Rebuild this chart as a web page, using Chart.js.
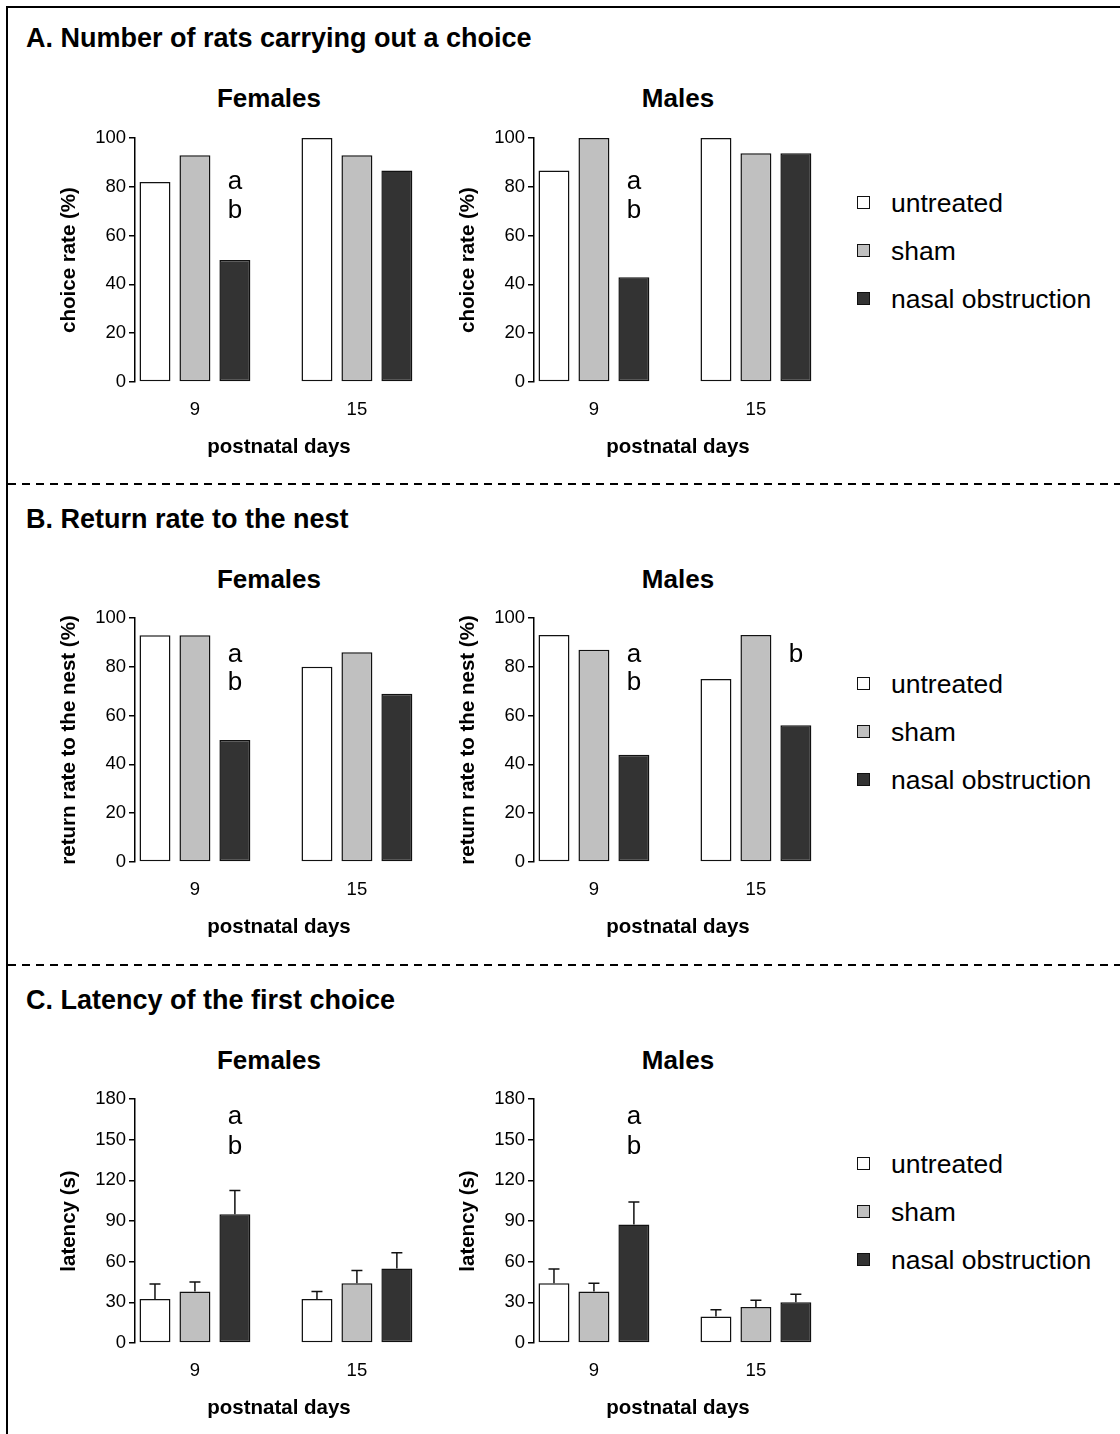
<!DOCTYPE html>
<html lang="en">
<head>
<meta charset="UTF-8">
<title>Nasal obstruction - homing test</title>
<script src="https://cdn.jsdelivr.net/npm/chart.js"></script>
<style>
  body { margin: 0; background: #fff; font-family: "Liberation Sans", Arial, sans-serif; }
  #page { position: relative; width: 1120px; height: 1434px; overflow: hidden; background: #fff; }
  #frame { position: absolute; left: 6px; top: 6px; width: 1200px; height: 1500px;
           border-top: 2px solid #000; border-left: 2px solid #000; }
  .dash { position: absolute; left: 8px; width: 1112px; height: 2px;
          background: repeating-linear-gradient(to right, #000 0 8px, transparent 8px 14px); }
  .sect { position: absolute; left: 26px; font-weight: bold; font-size: 27px; line-height: 27px; color: #000; white-space: nowrap; }
  .ptitle { position: absolute; width: 200px; text-align: center; font-weight: bold; font-size: 26px; line-height: 26px; }
  canvas { position: absolute; }
  .leg { position: absolute; left: 857px; font-size: 26.5px; line-height: 26px; }
  .leg div { position: relative; height: 48px; }
  .leg span.box { position: absolute; left: 0; top: 6px; width: 11px; height: 11px; border: 1.5px solid #111; }
  .leg span.txt { position: absolute; left: 34px; top: 0; white-space: nowrap; }
</style>
</head>
<body>
<div id="page">
  <div id="frame"></div>
  <div class="dash" style="top:483px"></div>
  <div class="dash" style="top:964px"></div>

  <div class="sect" style="top:25px">A. Number of rats carrying out a choice</div>
  <div class="sect" style="top:506px">B. Return rate to the nest</div>
  <div class="sect" style="top:987px">C. Latency of the first choice</div>

  <div class="ptitle" style="left:169px;top:85px">Females</div>
  <div class="ptitle" style="left:578px;top:85px">Males</div>
  <div class="ptitle" style="left:169px;top:566px">Females</div>
  <div class="ptitle" style="left:578px;top:566px">Males</div>
  <div class="ptitle" style="left:169px;top:1047px">Females</div>
  <div class="ptitle" style="left:578px;top:1047px">Males</div>

  <canvas id="aF" width="383" height="390" style="left:40px;top:70px"></canvas>
  <canvas id="aM" width="383" height="390" style="left:439px;top:70px"></canvas>
  <canvas id="bF" width="383" height="390" style="left:40px;top:550px"></canvas>
  <canvas id="bM" width="383" height="390" style="left:439px;top:550px"></canvas>
  <canvas id="cF" width="383" height="390" style="left:40px;top:1031px"></canvas>
  <canvas id="cM" width="383" height="390" style="left:439px;top:1031px"></canvas>

  <div class="leg" id="legA" style="top:190px"></div>
  <div class="leg" id="legB" style="top:671px"></div>
  <div class="leg" id="legC" style="top:1151px"></div>
</div>

<script>
// categories
const days = ['9', '15'];
const groups = ['untreated', 'sham', 'nasal obstruction'];
const fills = ['#ffffff', '#c0c0c0', '#333333'];

// A. choice rate (%) - rows: untreated, sham, nasal obstruction; cols: day 9, day 15
const choiceFemales = [[82, 100], [92.9, 92.9], [50, 86.7]];
const choiceMales = [[86.7, 100], [100, 93.8], [42.9, 93.8]];

// B. return rate to the nest (%)
const returnFemales = [[92.9, 80], [92.9, 86], [50, 69]];
const returnMales = [[93, 75], [87, 93], [44, 56]];

// C. latency of the first choice (s), mean and SEM
const latencyFemales = [[32.5, 32.5], [38, 44], [95, 55]];
const latencyFemalesSem = [[11, 5.5], [7, 9.5], [17.5, 11.5]];
const latencyMales = [[44, 19.5], [38, 26.5], [87.5, 30]];
const latencyMalesSem = [[10.5, 5], [6, 5], [16.5, 6]];

// significance letters: [day index, group index, y value, letter]
const choiceLettersF = [[0, 2, 82, 'a'], [0, 2, 70, 'b']];
const choiceLettersM = [[0, 2, 82, 'a'], [0, 2, 70, 'b']];
const returnLettersF = [[0, 2, 85, 'a'], [0, 2, 73.5, 'b']];
const returnLettersM = [[0, 2, 85, 'a'], [0, 2, 73.5, 'b'], [1, 2, 85, 'b']];
const latencyLetters = [[0, 2, 167, 'a'], [0, 2, 145, 'b']];

const yTicksRate = [0, 20, 40, 60, 80, 100];
const yTicksLatency = [0, 30, 60, 90, 120, 150, 180];

Chart.defaults.font.family = '"Liberation Sans", Arial, sans-serif';
Chart.defaults.color = '#000';

// error bars + letters
const marks = {
  id: 'marks',
  afterDatasetsDraw(chart, args, opts) {
    const ctx = chart.ctx;
    const y = chart.scales.y;
    ctx.save();
    chart.data.datasets.forEach((ds, k) => {
      if (!ds.sem) return;
      const meta = chart.getDatasetMeta(k);
      meta.data.forEach((bar, i) => {
        const top = y.getPixelForValue(ds.data[i].y + ds.sem[i]);
        ctx.strokeStyle = '#111';
        ctx.lineWidth = 1.5;
        ctx.beginPath();
        ctx.moveTo(bar.x, bar.y);
        ctx.lineTo(bar.x, top);
        ctx.moveTo(bar.x - 5.5, top);
        ctx.lineTo(bar.x + 5.5, top);
        ctx.stroke();
      });
    });
    ctx.fillStyle = '#000';
    ctx.font = '26px "Liberation Sans", Arial, sans-serif';
    ctx.textAlign = 'center';
    ctx.textBaseline = 'middle';
    (opts.letters || []).forEach(([d, g, v, t]) => {
      const bar = chart.getDatasetMeta(g).data[d];
      ctx.fillText(t, bar.x, y.getPixelForValue(v));
    });
    ctx.restore();
  }
};

function panel(id, values, sem, yTicks, yTitle, letters) {
  const yMax = yTicks[yTicks.length - 1];
  new Chart(document.getElementById(id), {
    type: 'bar',
    data: {
      datasets: groups.map((g, k) => ({
        label: g,
        data: values[k].map((v, i) => ({ x: i, y: v })),
        sem: sem ? sem[k] : null,
        backgroundColor: fills[k],
        borderColor: '#111',
        borderWidth: 1.5,
        borderSkipped: false,
        categoryPercentage: 0.74,
        barPercentage: 0.775
      }))
    },
    options: {
      responsive: false,
      animation: false,
      events: [],
      layout: { padding: { top: 68 } },
      plugins: {
        legend: { display: false },
        tooltip: { enabled: false },
        marks: { letters: letters }
      },
      scales: {
        x: {
          type: 'linear',
          offset: false,
          min: -0.37,
          max: 1.408,
          grid: { display: false, drawTicks: false },
          border: { display: false },
          afterBuildTicks: s => { s.ticks = days.map((d, i) => ({ value: i })); },
          afterFit: s => { s.height = 78; },
          ticks: {
            callback: v => days[v],
            font: { size: 18.5 },
            padding: 17,
            autoSkip: false,
            maxRotation: 0
          },
          title: {
            display: true,
            text: 'postnatal days',
            font: { size: 20.5, weight: 'bold' },
            padding: 0
          }
        },
        y: {
          min: 0,
          max: yMax,
          afterBuildTicks: s => { s.ticks = yTicks.map(v => ({ value: v })); },
          afterFit: s => { s.width = 95; },
          ticks: { font: { size: 18.5 }, padding: 3 },
          grid: { drawOnChartArea: false, drawTicks: true, tickLength: 6, color: '#000', lineWidth: 1.5 },
          border: { display: true, color: '#000', width: 1.5 },
          title: {
            display: true,
            text: yTitle,
            font: { size: 20.5, weight: 'bold' },
            padding: { top: 17.5, bottom: 0 }
          }
        }
      }
    },
    plugins: [marks]
  });
}

panel('aF', choiceFemales, null, yTicksRate, 'choice rate (%)', choiceLettersF);
panel('aM', choiceMales, null, yTicksRate, 'choice rate (%)', choiceLettersM);
panel('bF', returnFemales, null, yTicksRate, 'return rate to the nest (%)', returnLettersF);
panel('bM', returnMales, null, yTicksRate, 'return rate to the nest (%)', returnLettersM);
panel('cF', latencyFemales, latencyFemalesSem, yTicksLatency, 'latency (s)', latencyLetters);
panel('cM', latencyMales, latencyMalesSem, yTicksLatency, 'latency (s)', latencyLetters);

// legends
['legA', 'legB', 'legC'].forEach(id => {
  const el = document.getElementById(id);
  groups.forEach((g, k) => {
    const row = document.createElement('div');
    row.innerHTML = '<span class="box" style="background:' + fills[k] + '"></span><span class="txt">' + g + '</span>';
    el.appendChild(row);
  });
});
</script>
</body>
</html>
